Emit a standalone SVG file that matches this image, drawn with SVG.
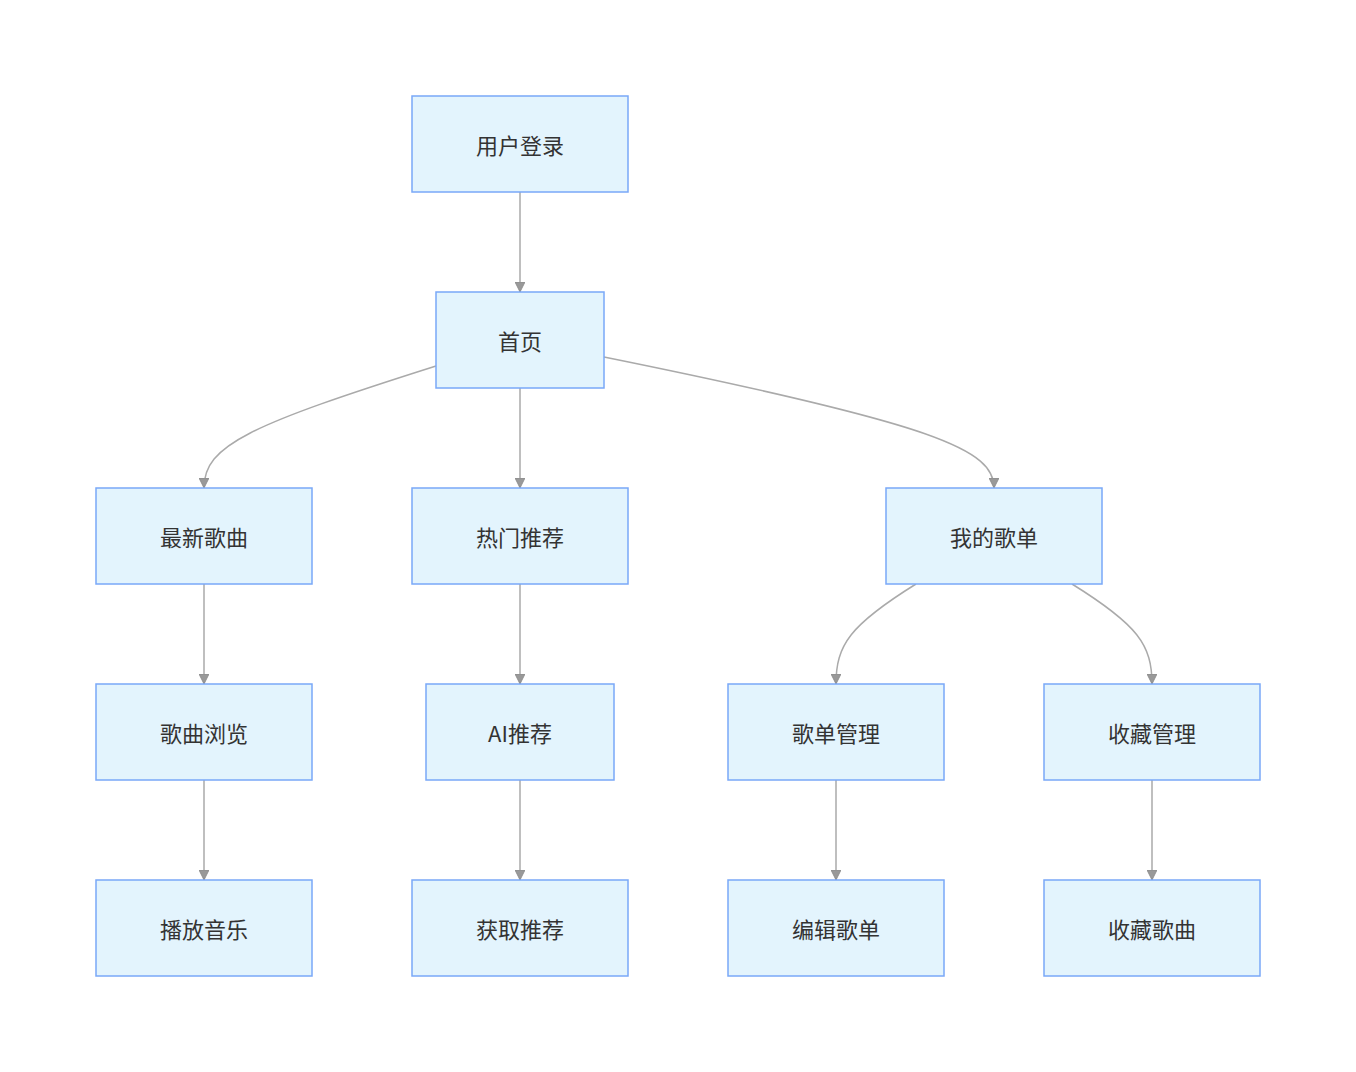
<svg xmlns="http://www.w3.org/2000/svg" width="1356" height="1072" viewBox="0 0 1356 1072">
<style>
.n rect{fill:#e3f4fd;stroke:#79a8f8;stroke-width:1.5}
.n text{font-family:"Noto Sans CJK SC","Noto Sans",sans-serif;font-size:22px;fill:#333;text-anchor:middle;dominant-baseline:central}
.e path{fill:none;stroke:#aaa;stroke-width:1.5;marker-end:url(#a)}
</style>
<defs><marker id="a" viewBox="0 0 10 10" refX="10" refY="5" markerWidth="10" markerHeight="10" markerUnits="userSpaceOnUse" orient="auto"><path d="M0,0L10,5L0,10z" fill="#999" stroke="#888" stroke-width="0.8"/></marker></defs>
<rect width="1356" height="1072" fill="#fff"/>
<g class="e">
<path d="M520,192V292"/>
<path d="M436,366C250,425 204,445 204,488"/>
<path d="M520,388V488"/>
<path d="M604,357C940,425 994,450 994,488"/>
<path d="M204,584V684"/>
<path d="M520,584V684"/>
<path d="M916,584C850,625 836,645 836,684"/>
<path d="M1072,584C1138,625 1152,645 1152,684"/>
<path d="M204,780V880"/>
<path d="M520,780V880"/>
<path d="M836,780V880"/>
<path d="M1152,780V880"/>
</g>
<g id="n1" class="n"><rect x="412" y="96" width="216" height="96"/><text x="520" y="144">用户登录</text></g>
<g id="n2" class="n"><rect x="436" y="292" width="168" height="96"/><text x="520" y="340">首页</text></g>
<g id="n3" class="n"><rect x="96" y="488" width="216" height="96"/><text x="204" y="536">最新歌曲</text></g>
<g id="n4" class="n"><rect x="412" y="488" width="216" height="96"/><text x="520" y="536">热门推荐</text></g>
<g id="n5" class="n"><rect x="886" y="488" width="216" height="96"/><text x="994" y="536">我的歌单</text></g>
<g id="n6" class="n"><rect x="96" y="684" width="216" height="96"/><text x="204" y="732">歌曲浏览</text></g>
<g id="n7" class="n"><rect x="426" y="684" width="188" height="96"/><text x="520" y="732">AI推荐</text></g>
<g id="n8" class="n"><rect x="728" y="684" width="216" height="96"/><text x="836" y="732">歌单管理</text></g>
<g id="n9" class="n"><rect x="1044" y="684" width="216" height="96"/><text x="1152" y="732">收藏管理</text></g>
<g id="n10" class="n"><rect x="96" y="880" width="216" height="96"/><text x="204" y="928">播放音乐</text></g>
<g id="n11" class="n"><rect x="412" y="880" width="216" height="96"/><text x="520" y="928">获取推荐</text></g>
<g id="n12" class="n"><rect x="728" y="880" width="216" height="96"/><text x="836" y="928">编辑歌单</text></g>
<g id="n13" class="n"><rect x="1044" y="880" width="216" height="96"/><text x="1152" y="928">收藏歌曲</text></g>
</svg>
